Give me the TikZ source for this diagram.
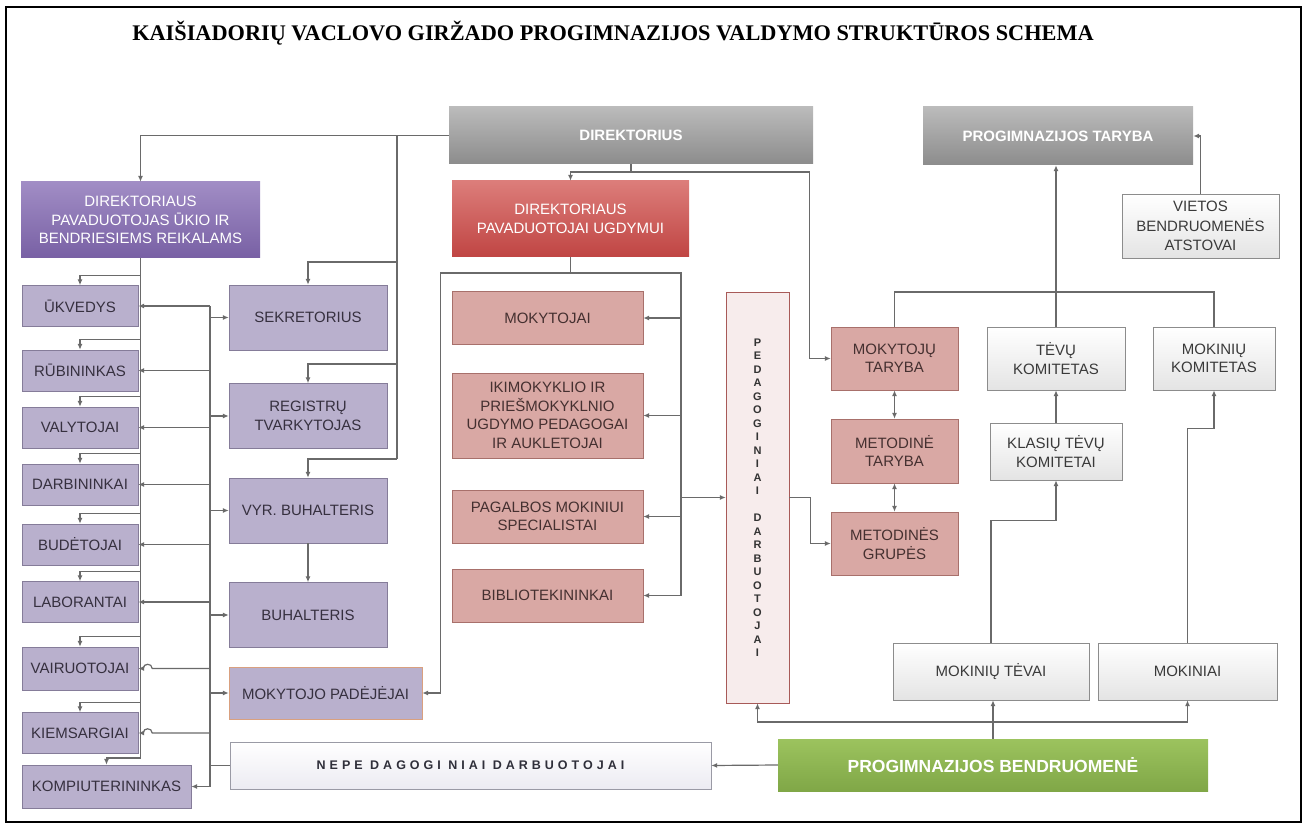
\documentclass[tikz,border=0pt]{standalone}
\usepackage{fontspec}
\setmainfont{Liberation Sans}
\newfontfamily\titlefont{Liberation Serif}
\newfontfamily\spacedfont[LetterSpace=32]{Liberation Sans}
\usetikzlibrary{arrows.meta}
\usetikzlibrary{calc}

\definecolor{lavfill}{HTML}{B9B0CD}
\definecolor{lavline}{HTML}{857C99}
\definecolor{lavtext}{HTML}{36303F}
\definecolor{rosefill}{HTML}{D9A8A4}
\definecolor{roseline}{HTML}{A8706B}
\definecolor{rosetext}{HTML}{453030}
\definecolor{linegray}{HTML}{6A6A6A}
\definecolor{greytop}{HTML}{BBBBBB}
\definecolor{greybot}{HTML}{8C8C8C}
\definecolor{purtop}{HTML}{A18DC5}
\definecolor{purbot}{HTML}{7860A4}
\definecolor{redtop}{HTML}{DC7D7A}
\definecolor{redbot}{HTML}{C04543}
\definecolor{greentop}{HTML}{9CC35E}
\definecolor{greenbot}{HTML}{80A747}
\definecolor{palefill}{HTML}{E4E4E4}
\definecolor{paleline}{HTML}{8C8C8C}
\definecolor{paletext}{HTML}{3A3A3A}
\definecolor{pedfill}{HTML}{F7ECEC}
\definecolor{pedline}{HTML}{A85A58}
\definecolor{pedtext}{HTML}{333333}
\definecolor{mpadline}{HTML}{D9A07F}
\definecolor{nepfill}{HTML}{ECEBF2}
\definecolor{nepline}{HTML}{9A9AA5}
\definecolor{neptext}{HTML}{2F2F3A}

\begin{document}
\begin{tikzpicture}[x=1pt, y=-1pt, >={Latex[length=6pt,width=5pt]},
	every node/.style={font=\fontsize{15}{18.5}\selectfont, align=center, inner sep=1pt},
	ln/.style={draw=linegray, line width=1.2pt},
	arr/.style={ln, ->},
	lav/.style={draw=lavline, fill=lavfill, text=lavtext, minimum width=116pt, minimum height=41pt},
	lavbig/.style={lav, minimum width=158pt, minimum height=65pt},
	rose/.style={draw=roseline, fill=rosefill, text=rosetext, minimum width=191pt, minimum height=53pt},
	roset/.style={rose, minimum width=127pt, minimum height=63pt},
	pale/.style={draw=paleline, top color=white, bottom color=palefill, text=paletext},
	head/.style={draw=none, text=white},
	greyhead/.style={head, top color=greytop, bottom color=greybot, font=\bfseries\fontsize{15}{18}\selectfont}]
	%\draw[style=help lines,gray!50] (0,0) grid[step=50] (1307,829);
	\useasboundingbox (0,0) rectangle (1307,829);
	\draw[line width=2.2pt] (6,7) rectangle (1301,822);

	\node[font=\titlefont\bfseries\fontsize{22.3}{25}\selectfont] (title) at (613,33) {KAIŠIADORIŲ VACLOVO GIRŽADO PROGIMNAZIJOS VALDYMO STRUKTŪROS SCHEMA};

	\node[greyhead, minimum width=364pt, minimum height=57pt] (dir) at (631,135.5) {DIREKTORIUS};
	\node[greyhead, minimum width=270pt, minimum height=58pt] (tar) at (1058,136) {PROGIMNAZIJOS TARYBA};
	\node[pale, minimum width=157pt, minimum height=64pt, font=\fontsize{15}{19.5}\selectfont] (viet) at (1200.5,226) {VIETOS\\BENDRUOMENĖS\\ATSTOVAI};
	\node[head, top color=purtop, bottom color=purbot, minimum width=239pt, minimum height=76pt] (pu) at (140.5,220) {DIREKTORIAUS\\PAVADUOTOJAS ŪKIO IR\\BENDRIESIEMS REIKALAMS};
	\node[head, top color=redtop, bottom color=redbot, minimum width=237pt, minimum height=76pt] (pug) at (570.5,219) {DIREKTORIAUS\\PAVADUOTOJAI UGDYMUI};

	\node[lav] (ukv) at (80,306) {ŪKVEDYS};
	\node[lav] (rub) at (80,370.5) {RŪBININKAS};
	\node[lav] (val) at (80,427.5) {VALYTOJAI};
	\node[lav] (darb) at (80,484.5) {DARBININKAI};
	\node[lav] (bud) at (80,544.5) {BUDĖTOJAI};
	\node[lav] (lab) at (80,602) {LABORANTAI};
	\node[lav, minimum height=43pt] (vair) at (80,668.5) {VAIRUOTOJAI};
	\node[lav] (kiem) at (80,733) {KIEMSARGIAI};
	\node[lav, minimum width=169pt, minimum height=43pt] (komp) at (106.5,786.5) {KOMPIUTERININKAS};

	\node[lavbig] (sek) at (308,317.5) {SEKRETORIUS};
	\node[lavbig] (reg) at (308,416) {REGISTRŲ\\TVARKYTOJAS};
	\node[lavbig] (vyr) at (308,510.5) {VYR. BUHALTERIS};
	\node[lavbig] (buh) at (308,615) {BUHALTERIS};
	\node[lav, draw=mpadline, minimum width=193pt, minimum height=52pt] (mpad) at (325.5,693) {MOKYTOJO PADĖJĖJAI};
	\node[draw=nepline, top color=white, bottom color=nepfill, minimum width=481pt, minimum height=47pt, font=\spacedfont\bfseries\fontsize{12.5}{15}\selectfont, text=neptext] (neped) at (470.5,765.5) {NEPE DAGOGI NIAI DARBUOTOJAI};

	\node[rose] (mok) at (547.5,318) {MOKYTOJAI};
	\node[rose, minimum height=85pt] (iki) at (547.5,415.5) {IKIMOKYKLIO IR\\PRIEŠMOKYKLNIO\\UGDYMO PEDAGOGAI\\IR AUKLETOJAI};
	\node[rose] (pag) at (547.5,516.5) {PAGALBOS MOKINIUI\\SPECIALISTAI};
	\node[rose] (bib) at (547.5,595.5) {BIBLIOTEKININKAI};
	\node[draw=pedline, fill=pedfill, minimum width=63pt, minimum height=411pt, font=\bfseries\fontsize{11}{13.5}\selectfont, text=pedtext] (ped) at (757.5,497.5) {P\\E\\D\\A\\G\\O\\G\\I\\N\\I\\A\\I\\~\\D\\A\\R\\B\\U\\O\\T\\O\\J\\A\\I};

	\node[roset] (mt) at (894.5,358.5) {MOKYTOJŲ\\TARYBA};
	\node[roset, minimum height=64pt] (metar) at (894.5,451) {METODINĖ\\TARYBA};
	\node[roset] (megr) at (894.5,543.5) {METODINĖS\\GRUPĖS};

	\node[pale, minimum width=138pt, minimum height=63pt] (tk) at (1056,358.5) {TĖVŲ\\KOMITETAS};
	\node[pale, minimum width=122pt, minimum height=63pt] (mk) at (1214,358.5) {MOKINIŲ\\KOMITETAS};
	\node[pale, minimum width=132pt, minimum height=57pt] (ktk) at (1056,451.5) {KLASIŲ TĖVŲ\\KOMITETAI};
	\node[pale, minimum width=196pt, minimum height=57pt] (mtev) at (991,671.5) {MOKINIŲ TĖVAI};
	\node[pale, minimum width=179pt, minimum height=57pt] (mokn) at (1187.5,671.5) {MOKINIAI};
	\node[head, top color=greentop, bottom color=greenbot, minimum width=430pt, minimum height=52pt, font=\bfseries\fontsize{17.5}{20}\selectfont] (bendr) at (993,765) {PROGIMNAZIJOS BENDRUOMENĖ};

	% direktorius
	\draw[arr] (dir.west) -| (pu.north);
	\coordinate (dl) at (397,135.5);
	\coordinate (dl1) at (397,262);
	\coordinate (dl2) at (397,364);
	\coordinate (dl3) at (397,459);
	\draw[ln] (dl) -- (dl3);
	\draw[arr] (dl1) -| (sek.north);
	\draw[arr] (dl2) -| (reg.north);
	\draw[arr] (dl3) -| (vyr.north);
	\draw[arr] (vyr) -- (buh);

	% ukio pavaduotojas
	\coordinate (tr) at (140.5,758);
	\draw[arr] (pu.south) -- (tr) -| (komp.north);
	\foreach \n in {ukv,rub,val,darb,bud,lab,vair,kiem}
		\draw[arr] ($(pu.south |- \n.north)+(0,-10)$) -| (\n.north);

	\coordinate (bus) at (210,306);
	\draw[ln] (bus) -- (bus |- komp.east);
	\foreach \n in {ukv,rub,val,darb,bud,lab,komp}
		\draw[arr] (bus |- \n.east) -- (\n.east);
	\foreach \n in {vair,kiem}
		\draw[arr] (bus |- \n.east) -- ($(\n.east)+(14,0)$) to[out=90,in=90,looseness=1.6] ($(\n.east)+(5,0)$) -- (\n.east);
	\foreach \n in {sek,reg,vyr,buh,mpad}
		\draw[arr] (bus |- \n.west) -- (\n.west);
	\draw[ln] (neped.west) -- (bus |- neped.west);

	% ugdymui
	\coordinate (dj) at (631,172);
	\draw[ln] (dir.south) -- (dj);
	\draw[arr] (dj) -| (pug.north);
	\draw[arr] (dj) -| ($(mt.west)+(-21,0)$) -- (mt.west);

	\coordinate (uj) at (570.5,273);
	\coordinate (ur) at (681,273);
	\draw[ln] (pug.south) -- (uj) -- (ur) -- (ur |- bib.east);
	\draw[arr] (uj) -| ($(mpad.east)+(18,0)$) -- (mpad.east);
	\foreach \n in {mok,iki,pag,bib}
		\draw[arr] (ur |- \n.east) -- (\n.east);
	\draw[arr] (ur |- ped.west) -- (ped.west);
	\draw[arr] (ped.east) -- ++(21,0) |- (megr.west);
	\draw[<->, ln] (mt) -- (metar);
	\draw[<->, ln] (metar) -- (megr);

	% taryba
	\coordinate (tb) at (1056,292);
	\draw[ln] (mt.north) |- (tb) -| (mk.north);
	\draw[arr] (tk.north) -- (tk.north |- tar.south);
	\draw[arr] (viet.north) |- (tar.east);
	\draw[arr] (ktk) -- (tk);
	\draw[arr] (mtev.north) |- ($(ktk.south)+(0,40)$) -- (ktk.south);
	\draw[arr] (mokn.north) |- ($(mk.south)+(0,38)$) -- (mk.south);

	% bendruomene
	\coordinate (gb) at (993,722);
	\draw[arr] (bendr.north) -- (bendr.north |- mtev.south);
	\draw[arr] (gb) -| (ped.south);
	\draw[arr] (gb) -| (mokn.south);
	\draw[arr] (bendr.west) -- (neped.east);
\end{tikzpicture}
\end{document}
